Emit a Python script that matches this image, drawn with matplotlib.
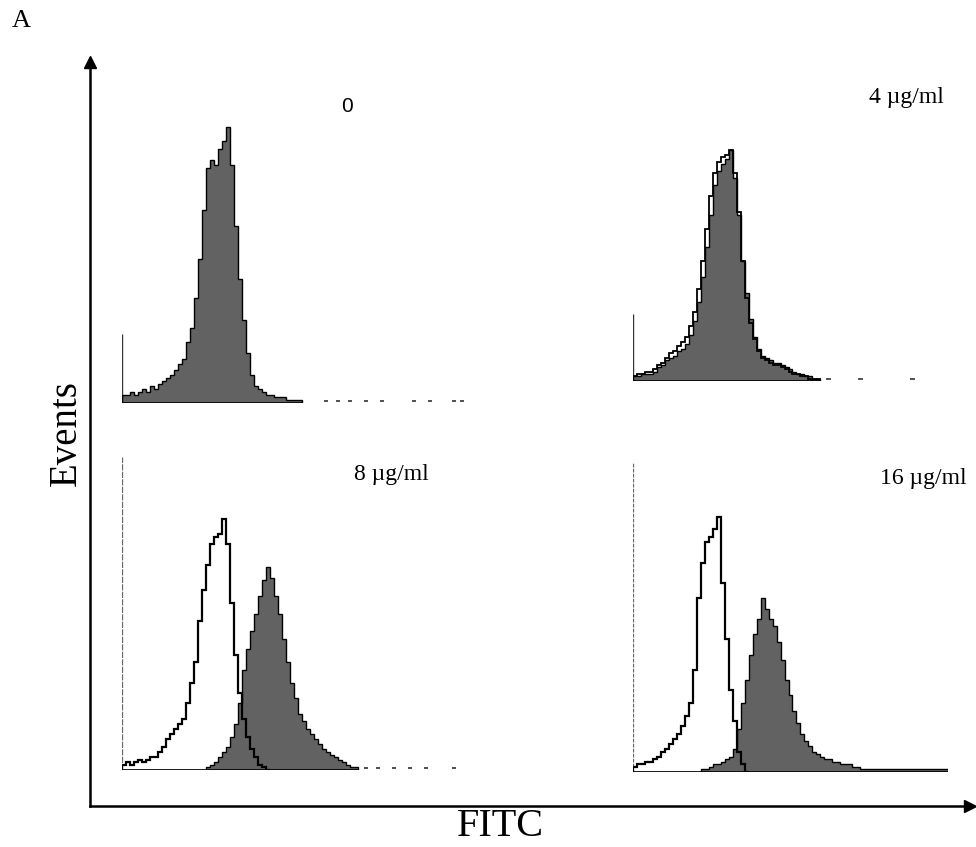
import numpy as np
import matplotlib.pyplot as plt

# histogram counts per channel (% of tallest peak in each panel)
tl_fill = [3, 3, 4, 3, 4, 5, 4, 6, 5, 7, 8, 9, 10, 12, 14, 16, 22, 27, 38, 52,
           70, 85, 88, 86, 92, 95, 100, 86, 64, 45, 30, 18, 10, 6, 5, 4, 3, 3, 2, 2,
           2, 1, 1, 1, 1]
tl_ch0 = 25
tl_debris = [51, 54, 57, 61, 65, 73, 77, 83, 85]

tr_fill = [2, 2, 3, 3, 3, 4, 6, 7, 9, 10, 11, 13, 14, 16, 20, 26, 34, 45, 58, 72,
           85, 91, 94, 96, 100, 88, 72, 52, 38, 27, 19, 14, 11, 10, 9, 8, 8, 7, 6, 5,
           4, 3, 3, 2, 2, 1, 1]
tr_open = [2, 3, 3, 4, 4, 5, 7, 8, 10, 12, 13, 15, 17, 19, 24, 30, 40, 52, 66, 80,
           90, 95, 97, 98, 100, 90, 73, 52, 36, 25, 18, 13, 10, 9, 8, 7, 7, 6, 5, 4,
           3, 3, 2, 2, 1, 1, 1]
tr_ch0 = 29
tr_debris = [49, 57, 70]

bl_open = [2, 3, 2, 3, 4, 3, 4, 5, 5, 7, 9, 12, 14, 16, 18, 20, 26, 34, 42, 58,
           70, 80, 88, 91, 92, 98, 88, 65, 45, 30, 20, 13, 8, 5, 2, 1, 0]
bl_fill = [0] * 20 + [0, 1, 2, 3, 5, 7, 9, 13, 18, 26, 39, 47, 54, 61, 68, 74, 79, 75,
                      68, 61, 51, 42, 34, 28, 22, 19, 16, 14, 12, 10, 8, 7, 6, 5, 4,
                      3, 2, 1, 1]
bl_debris = [61, 64, 68, 72, 76, 83]

br_open = [2, 3, 3, 4, 4, 5, 6, 8, 9, 11, 13, 15, 18, 22, 27, 40, 68, 82, 90, 92,
           95, 100, 74, 52, 32, 20, 8, 3, 0]
br_fill = [0] * 16 + [0, 1, 1, 2, 3, 3, 4, 5, 6, 9, 17, 27, 36, 46, 54, 60, 68, 64,
                      60, 57, 51, 44, 36, 30, 24, 19, 15, 12, 10, 8, 7, 6, 5, 5, 4, 4,
                      3, 3, 3, 2, 2, 1, 1, 1, 1, 1, 1, 1, 1, 1, 1, 1, 1, 1, 1, 1,
                      1, 1, 1, 1, 1, 1, 1]

labels = ["0", "4 µg/ml", "8 µg/ml", "16 µg/ml"]

W, H = 976, 847
fig = plt.figure(figsize=(W / 100, H / 100), dpi=100)


def px_rect(left, right, base, height):
    return [left / W, 1 - base / H, (right - left) / W, height / H]


# big Events / FITC axes with arrows
ax = fig.add_axes(px_rect(90, 970, 806, 744))
ax.set_xticks([])
ax.set_yticks([])
for s in ["top", "right"]:
    ax.spines[s].set_visible(False)
for s in ["left", "bottom"]:
    ax.spines[s].set_linewidth(1.8)
ax.plot(1, 0, ">k", ms=8, transform=ax.transAxes, clip_on=False)
ax.plot(0, 1, "^k", ms=8, transform=ax.transAxes, clip_on=False)
ax.patch.set_alpha(0)

fill_col = "#626262"


def panel(rect, ymax, width_ch):
    a = fig.add_axes(rect)
    a.set_xlim(0, width_ch)
    a.set_ylim(0, ymax)
    a.set_axis_off()
    return a


def draw_fill(a, vals):
    e = np.arange(len(vals) + 1)
    a.stairs(vals, e, fill=True, color=fill_col, zorder=2)
    a.stairs(vals, e, color="black", lw=1.0, zorder=3)


def draw_open(a, vals, lw=1.6):
    e = np.arange(len(vals) + 1)
    a.stairs(vals, e, color="black", lw=lw, zorder=4)


def debris(a, xs):
    a.hlines([0.8] * len(xs), np.array(xs) - 0.6, np.array(xs) + 0.6,
             color="#333333", lw=1.2)


# top left: 0
a1 = panel(px_rect(122, 478, 403, 290), 105, 89)
draw_fill(a1, tl_fill)
a1.vlines(0, 0, tl_ch0, color="#333333", lw=1)
a1.hlines(0, 0, len(tl_fill), color="black", lw=1.2)
debris(a1, tl_debris)

# top right: 4
a2 = panel(px_rect(633, 948, 381, 242.6), 105, 79)
draw_fill(a2, tr_fill)
draw_open(a2, tr_open, lw=1.3)
a2.vlines(0, 0, tr_ch0, color="#333333", lw=1)
a2.hlines(0, 0, len(tr_fill), color="black", lw=1.2)
debris(a2, tr_debris)

# bottom left: 8
a3 = panel(px_rect(122, 478, 770, 313), 122, 89)
draw_fill(a3, bl_fill)
draw_open(a3, bl_open)
a3.vlines(0, 0, 122, color="#666666", lw=0.9, linestyles=(0, (5, 1)))
a3.hlines(0, 0, len(bl_fill), color="black", lw=1.2)
debris(a3, bl_debris)

# bottom right: 16
a4 = panel(px_rect(633, 948, 772, 309), 121, 79)
draw_fill(a4, br_fill)
draw_open(a4, br_open)
a4.vlines(0, 0, 121, color="#666666", lw=0.9, linestyles=(0, (3, 1)))
a4.hlines(0, 0, len(br_fill), color="black", lw=1.2)

serif = "Liberation Serif"
fig.text(347 / W, 1 - 107 / H, labels[0], ha="center", va="center",
         fontsize=15, family="Liberation Sans")
fig.text(906 / W, 1 - 97 / H, labels[1], ha="center", va="center", fontsize=17, family=serif)
fig.text(391 / W, 1 - 474 / H, labels[2], ha="center", va="center", fontsize=17, family=serif)
fig.text(923 / W, 1 - 478 / H, labels[3], ha="center", va="center", fontsize=17, family=serif)

fig.text(21 / W, 1 - 21 / H, "A", ha="center", va="center", fontsize=19, family=serif)
fig.text(66 / W, 1 - 433 / H, "Events", ha="center", va="center", rotation=90,
         fontsize=28, family=serif)
fig.text(500 / W, 1 - 826 / H, "FITC", ha="center", va="center", fontsize=29, family=serif)

fig.savefig("out.png", dpi=100)
